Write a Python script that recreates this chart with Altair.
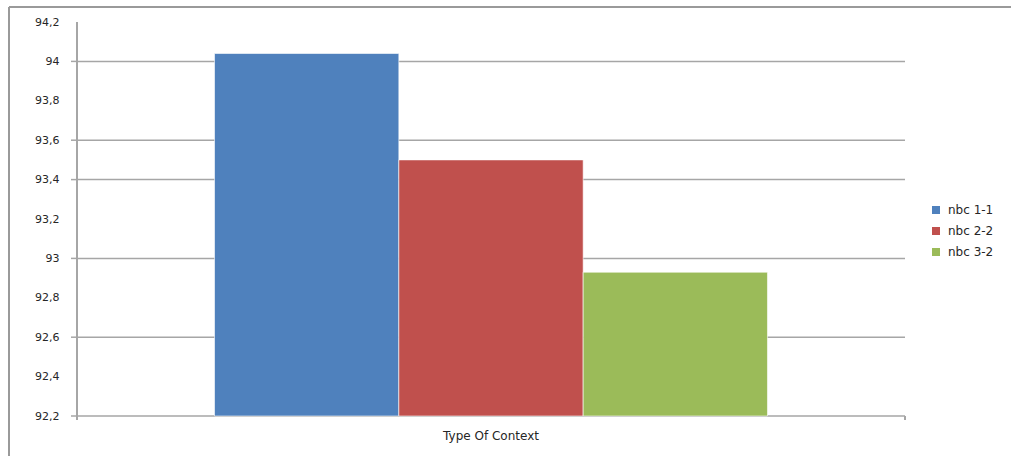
import altair as alt
import pandas as pd

# Series values for the single context category
categories = ["Type Of Context"]
series = ["nbc 1-1", "nbc 2-2", "nbc 3-2"]
values = [94.04, 93.50, 92.93]
colors = ["#4F81BD", "#C0504D", "#9BBB59"]

# Axis labelling
y_labels = [92.2, 92.4, 92.6, 92.8, 93.0, 93.2, 93.4, 93.6, 93.8, 94.0, 94.2]
grid_values = [92.2, 92.6, 93.0, 93.4, 93.6, 94.0]
y_min, y_max = 92.2, 94.2

W, H = 828, 394
FONT = "DejaVu Sans"
TEXT = "#262626"
GRID = "#a6a6a6"

bars_df = pd.DataFrame({
    "context": [categories[0]] * len(series),
    "series": series,
    "value": values,
})
grid_df = pd.DataFrame({"v": grid_values})

y_scale = alt.Scale(domain=[y_min, y_max], zero=False, nice=False)
y_axis_def = alt.Axis(
    title=None, values=y_labels, grid=False, ticks=False, domain=False,
    labelFont=FONT, labelFontSize=11, labelColor=TEXT,
    labelPadding=18, format=".1~f",
    labelExpr="replace(datum.label, '.', ',')",
)

grid = alt.Chart(grid_df).mark_rule(color=GRID, strokeWidth=1.5).encode(
    y=alt.Y("v:Q", scale=y_scale, axis=y_axis_def),
    x=alt.value(0),
    x2=alt.value(W),
)

ticks = alt.Chart(grid_df).mark_rule(color=GRID, strokeWidth=1.5).encode(
    y=alt.Y("v:Q", scale=y_scale, axis=y_axis_def),
    x=alt.value(-6),
    x2=alt.value(0),
)

bars = alt.Chart(bars_df).mark_bar(stroke="white", strokeWidth=0.6).encode(
    x=alt.X(
        "context:N",
        scale=alt.Scale(paddingOuter=0.2487, paddingInner=0),
        axis=alt.Axis(
            title=None, ticks=False, domain=False, labelAngle=0,
            labelFont=FONT, labelFontSize=12, labelColor=TEXT,
            labelPadding=14,
        ),
    ),
    xOffset=alt.XOffset("series:N", sort=series),
    y=alt.Y("value:Q", scale=y_scale, axis=y_axis_def),
    y2=alt.datum(y_min),
    color=alt.Color(
        "series:N",
        sort=series,
        scale=alt.Scale(domain=series, range=colors),
        legend=alt.Legend(
            title=None, orient="none", legendX=853, legendY=182,
            symbolType="square", symbolSize=64, symbolStrokeWidth=0,
            labelFont=FONT, labelFontSize=12, labelColor=TEXT,
            rowPadding=9, labelOffset=6,
        ),
    ),
)

# Axis lines and frame
y_axis = alt.Chart(grid_df).mark_rule(color=GRID, strokeWidth=1.5).encode(
    x=alt.value(0), y=alt.value(0), y2=alt.value(H + 4)
)
x_end_tick = alt.Chart(grid_df).mark_rule(color=GRID, strokeWidth=1.5).encode(
    x=alt.value(W), y=alt.value(H), y2=alt.value(H + 4)
)
frame_top = alt.Chart(grid_df).mark_rule(color="#9a9a9a", strokeWidth=2).encode(
    x=alt.value(-68), x2=alt.value(W + 120), y=alt.value(-15)
)
frame_left = alt.Chart(grid_df).mark_rule(color="#9a9a9a", strokeWidth=2).encode(
    x=alt.value(-68), y=alt.value(-15), y2=alt.value(H + 60)
)

chart = alt.layer(
    grid, ticks, bars, y_axis, x_end_tick, frame_top, frame_left
).properties(
    width=W, height=H,
    background="white",
    autosize=alt.AutoSizeParams(type="none"),
    padding={"left": 77, "top": 22, "right": 106, "bottom": 40},
).configure_view(strokeWidth=0, stroke="transparent")

chart.save("out.html", embed_options={"renderer": "svg", "actions": False})
